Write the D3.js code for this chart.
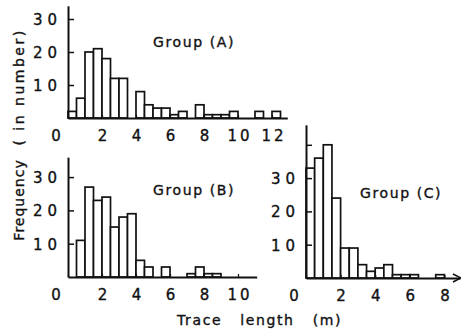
<!DOCTYPE html>
<html>
<head>
<meta charset="utf-8">
<script src="https://cdn.jsdelivr.net/npm/d3@7"></script>
<style>
  html, body { margin: 0; padding: 0; background: #fff; }
  svg { display: block; }
  text { font-family: "DejaVu Sans", sans-serif; fill: #111; stroke: #111; stroke-width: 0.35px; }
</style>
</head>
<body>
<svg id="chart" width="461" height="333"></svg>
<script>
// ---- data (bin width 0.5 m; bin start values) ----
const binWidth = 0.5;
const binStartsA = [0,0.5,1,1.5,2,2.5,3,3.5,4,4.5,5,5.5,6,6.5,7,7.5,8,8.5,9,9.5,10,10.5,11,11.5,12];
const countsA    = [2,6,20,21,18,12,12,0,8,4,3,3,1,2,0,4,1,1,1,2,0,0,2,0,2];
const binStartsB = [0,0.5,1,1.5,2,2.5,3,3.5,4,4.5,5,5.5,6,6.5,7,7.5,8,8.5];
const countsB    = [0,11,27,23,24,15,18,19,5,3,0,3,0,0,1,3,1,1];
const binStartsC = [0,0.5,1,1.5,2,2.5,3,3.5,4,4.5,5,5.5,6,6.5,7,7.5];
const countsC    = [33,36,40,24,9,9,4,2,3,4,1,1,1,0,0,1];

const xTicksA = [0,2,4,6,8,10,12];
const xTicksB = [0,2,4,6,8,10];
const xTicksC = [0,2,4,6,8];
const yTicksA = [10,20,30];
const yTicksB = [10,20,30];
const yTicksC = [10,20,30,40];
const yTickLabelsC = ["10","20","30",""];

const groupLabels = ["Group (A)", "Group (B)", "Group (C)"];
const xTitle = "Trace   length   (m)";
const yTitle1 = "Frequency";
const yTitle2 = "( in number)";

// ---- layout ----
const svg = d3.select("#chart");

const panels = [
  { starts: binStartsA, counts: countsA, xTicks: xTicksA, yTicks: yTicksA, yLabels: null,
    x0: 68, pxPerM: 17, xMax: 12.9, base: 118, pxPerUnit: 3.3, yMax: 34,
    label: groupLabels[0], lx: 153, ly: 47, arrow: false },
  { starts: binStartsB, counts: countsB, xTicks: xTicksB, yTicks: yTicksB, yLabels: null,
    x0: 68, pxPerM: 17, xMax: 11.1, base: 277, pxPerUnit: 3.33, yMax: 36,
    label: groupLabels[1], lx: 153, ly: 195, arrow: false },
  { starts: binStartsC, counts: countsC, xTicks: xTicksC, yTicks: yTicksC, yLabels: yTickLabelsC,
    x0: 306, pxPerM: 17.3, xMax: 8.9, base: 278, pxPerUnit: 3.33, yMax: 46,
    label: groupLabels[2], lx: 360, ly: 198, arrow: true }
];

panels.forEach(p => {
  const x = d3.scaleLinear().domain([0, p.xMax]).range([p.x0, p.x0 + p.pxPerM * p.xMax]);
  const y = d3.scaleLinear().domain([0, p.yMax]).range([p.base, p.base - p.pxPerUnit * p.yMax]);
  const g = svg.append("g");

  // bars
  const data = p.starts.map((s, i) => ({ s, c: p.counts[i] })).filter(d => d.c > 0);
  g.selectAll("rect.bar").data(data).enter().append("rect")
    .attr("class", "bar")
    .attr("x", d => x(d.s))
    .attr("width", d => x(d.s + binWidth) - x(d.s))
    .attr("y", d => y(d.c))
    .attr("height", d => y(0) - y(d.c))
    .attr("fill", "#fff")
    .attr("stroke", "#111")
    .attr("stroke-width", 1.7);

  // y axis
  const yAxis = d3.axisLeft(y).tickValues(p.yTicks).tickSizeInner(-6).tickSizeOuter(0).tickPadding(6)
    .tickFormat((d, i) => p.yLabels ? p.yLabels[i] : String(d));
  const ya = g.append("g").attr("transform", `translate(${p.x0},0)`).call(yAxis);
  ya.select(".domain").attr("stroke", "#111").attr("stroke-width", 2);
  ya.selectAll(".tick line").attr("stroke", "#111").attr("stroke-width", 1.5);
  ya.selectAll(".tick text").style("font-size", "15px").style("letter-spacing", "5px")
    .attr("fill", "#111").attr("dy", "0.36em");

  // x axis
  const xAxis = d3.axisBottom(x).tickValues(p.xTicks).tickSizeInner(-3).tickSizeOuter(0).tickPadding(12)
    .tickFormat(d => String(d));
  const xa = g.append("g").attr("transform", `translate(0,${p.base})`).call(xAxis);
  xa.select(".domain").attr("stroke", "#111").attr("stroke-width", 2);
  xa.selectAll(".tick line").attr("stroke", "#111").attr("stroke-width", 1.2);
  xa.selectAll(".tick text").style("font-size", "15px").style("letter-spacing", "3px")
    .attr("fill", "#111")
    .attr("dx", d => d === 0 ? -11 : 1.5);

  if (p.arrow) {
    const xe = x.range()[1];
    g.append("path")
      .attr("d", `M${xe - 7},${p.base - 4} L${xe + 1},${p.base} L${xe - 7},${p.base + 4}`)
      .attr("fill", "none").attr("stroke", "#111").attr("stroke-width", 1.5);
  }

  g.append("text").attr("x", p.lx).attr("y", p.ly)
    .style("font-size", "14px").style("letter-spacing", "1.6px")
    .text(p.label);
});

// axis titles
svg.append("text").attr("x", 177).attr("y", 325)
  .style("font-size", "14px").style("letter-spacing", "1.6px").style("white-space", "pre")
  .text(xTitle);

svg.append("text").attr("transform", "translate(24,200) rotate(-90)")
  .attr("text-anchor", "middle")
  .style("font-size", "14px").style("letter-spacing", "1px")
  .text(yTitle1);
svg.append("text").attr("transform", "translate(24,87) rotate(-90)")
  .attr("text-anchor", "middle")
  .style("font-size", "14px").style("letter-spacing", "2.5px")
  .text(yTitle2);
</script>
</body>
</html>
